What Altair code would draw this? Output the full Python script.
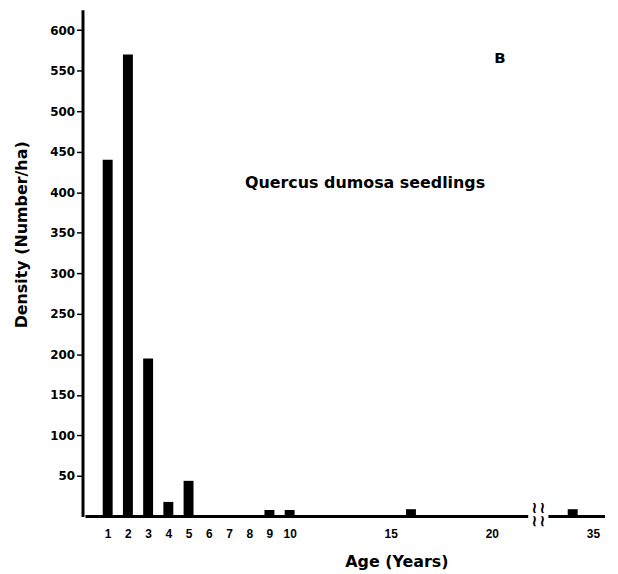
import altair as alt
import pandas as pd

# Data
ages = [1, 2, 3, 4, 5, 9, 10, 16, 34]
density = [440, 570, 195, 18, 44, 8, 8, 9, 9]

# x-axis tick labels (ages) and the broken-axis offset
tick_ages = [1, 2, 3, 4, 5, 6, 7, 8, 9, 10, 15, 20, 35]
y_ticks = [50, 100, 150, 200, 250, 300, 350, 400, 450, 500, 550, 600]
break_at = 22.3
break_shift = 10

def pos(a):
    return a if a < break_at else a - break_shift

df = pd.DataFrame({"age": ages, "density": density})
df["pos"] = [pos(a) for a in ages]
tick_pos = [pos(a) for a in tick_ages]

axis_segments = pd.DataFrame({"x": [-0.1, 22.8], "x2": [21.8, 25.6]})

FONT = "DejaVu Sans"
XFONT = "Liberation Sans"
X_DOMAIN = [0, 25.6]
Y_DOMAIN = [0, 625]

xscale = alt.Scale(domain=X_DOMAIN, nice=False, zero=False)
yscale = alt.Scale(domain=Y_DOMAIN, nice=False)

bars = alt.Chart(df).mark_bar(color="black", width=10).encode(
    x=alt.X(
        "pos:Q",
        scale=xscale,
        axis=alt.Axis(
            values=tick_pos,
            labelExpr=f"datum.value > {break_at} ? datum.value + {break_shift} : datum.value",
            domain=False,
            ticks=False,
            grid=False,
            labelFont=XFONT,
            labelFontWeight="bold",
            labelFontSize=12,
            labelColor="black",
            labelPadding=12,
            title="Age (Years)",
            titleFont=FONT,
            titleFontWeight="bold",
            titleFontSize=16,
            titleColor="black",
            titleX=316,
            titleY=45,
            titleBaseline="middle",
        ),
    ),
    y=alt.Y(
        "density:Q",
        scale=yscale,
        axis=alt.Axis(
            values=y_ticks,
            domain=True,
            domainColor="black",
            domainWidth=3,
            ticks=True,
            tickColor="black",
            tickSize=6,
            tickWidth=1.5,
            grid=False,
            labelFont=FONT,
            labelFontWeight="bold",
            labelFontSize=12,
            labelColor="black",
            labelPadding=2,
            title="Density (Number/ha)",
            titleFont=FONT,
            titleFontWeight="bold",
            titleFontSize=16,
            titleColor="black",
            titleAngle=-90,
            titleX=-61,
            titleY=226,
            titleAlign="center",
            titleBaseline="middle",
        ),
    ),
)

xaxis_line = alt.Chart(axis_segments).mark_rule(color="black", strokeWidth=3).encode(
    x=alt.X("x:Q", scale=xscale),
    x2="x2:Q",
    y=alt.value(510),
)

squiggles = alt.Chart(pd.DataFrame({"x": [break_at - 0.2, break_at + 0.2]})).mark_text(
    text="~~", fontSize=16, font="DejaVu Sans", fontWeight="bold", color="black",
    baseline="middle", align="center", angle=90
).encode(x=alt.X("x:Q", scale=xscale), y=alt.value(508))

label_b = alt.Chart(pd.DataFrame({"t": ["B"]})).mark_text(
    font=FONT, fontWeight="bold", fontSize=15, color="black", align="center", baseline="middle"
).encode(text="t:N", x=alt.datum(20.4), y=alt.datum(565))

label_species = alt.Chart(pd.DataFrame({"t": ["Quercus dumosa seedlings"]})).mark_text(
    font=FONT, fontWeight="bold", fontSize=16, color="black",
    align="center", baseline="middle"
).encode(text="t:N", x=alt.datum(13.73), y=alt.datum(411))

chart = alt.layer(bars, xaxis_line, squiggles, label_b, label_species).properties(
    width=531,
    height=510,
    autosize=alt.AutoSizeParams(type="none"),
    padding={"left": 75, "top": 0, "right": 0, "bottom": 56},
    background="white",
).configure_view(stroke=None)

chart.save("out.html", embed_options={"renderer": "svg", "actions": False})
